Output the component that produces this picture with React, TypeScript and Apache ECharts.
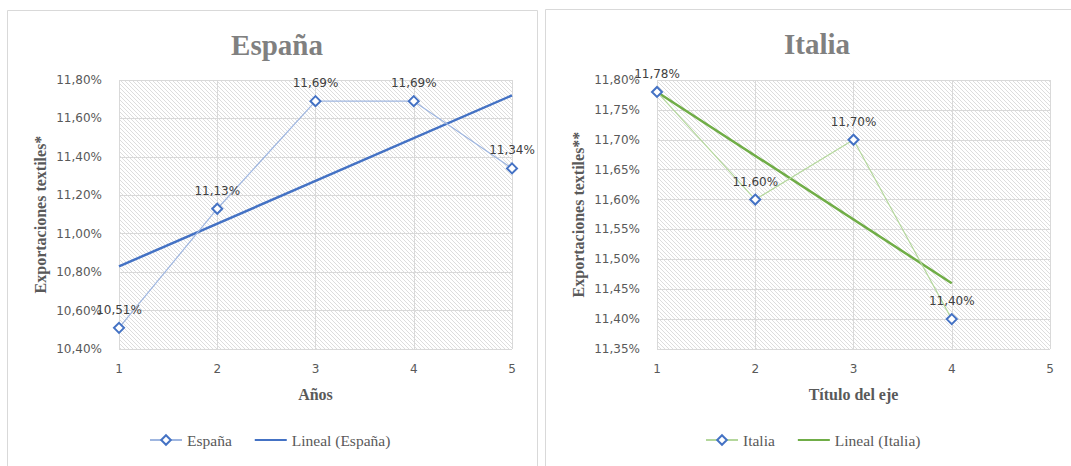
import { useEffect, useRef } from "react";
import * as echarts from "echarts";

// Spain: textile export share per year
const years = [1, 2, 3, 4, 5];
const espana = [10.51, 11.13, 11.69, 11.69, 11.34];
// Linear trend line end points (x = 1 and x = 5)
const espanaTrendX = [1, 5];
const espanaTrend = [10.83, 11.72];

// Italy: textile export share per year
const italiaYears = [1, 2, 3, 4];
const italia = [11.78, 11.6, 11.7, 11.4];
// Linear trend line end points (x = 1 and x = 4)
const italiaTrendX = [1, 4];
const italiaTrend = [11.78, 11.46];

const pct = (v: number) => v.toFixed(2).replace(".", ",") + "%";

const SANS = "DejaVu Sans";
const SERIF = "Liberation Serif";

// Diagonal hatch tile used as the plot-area fill
function hatchCanvas() {
  const c = document.createElement("canvas");
  c.width = 4;
  c.height = 4;
  const ctx = c.getContext("2d")!;
  ctx.fillStyle = "#ffffff";
  ctx.fillRect(0, 0, 4, 4);
  ctx.strokeStyle = "#d4d4d4";
  ctx.lineWidth = 0.8;
  ctx.beginPath();
  ctx.moveTo(-1, -1);
  ctx.lineTo(5, 5);
  ctx.moveTo(-1, 3);
  ctx.lineTo(1, 5);
  ctx.moveTo(3, -1);
  ctx.lineTo(5, 1);
  ctx.stroke();
  return c;
}

export default function App() {
  const ref = useRef<HTMLDivElement>(null);

  useEffect(() => {
    document.body.style.margin = "0";
    const chart = echarts.init(ref.current!, null, { renderer: "svg" });
    const hatch = { image: hatchCanvas(), repeat: "repeat" };

    const xAxisBase = (gridIndex: number, name: string) => ({
      type: "value",
      gridIndex,
      min: 1,
      max: 5,
      interval: 1,
      name,
      nameLocation: "middle",
      nameGap: 37,
      nameTextStyle: { fontFamily: SERIF, fontSize: 16, fontWeight: "bold", color: "#595959" },
      axisLine: { show: false },
      axisTick: { show: false },
      axisLabel: { margin: 14, fontFamily: SANS, fontSize: 12, color: "#595959" },
      splitLine: { show: true, lineStyle: { color: "#d9d9d9", width: 1 } },
    });

    const yAxisBase = (gridIndex: number, name: string, min: number, max: number, interval: number) => ({
      type: "value",
      gridIndex,
      min,
      max,
      interval,
      name,
      nameLocation: "middle",
      nameGap: 71,
      nameRotate: 90,
      nameTextStyle: { fontFamily: SERIF, fontSize: 16, fontWeight: "bold", color: "#595959" },
      axisLine: { show: false },
      axisTick: { show: false },
      axisLabel: { margin: 17, fontFamily: SANS, fontSize: 12, color: "#595959", formatter: pct },
      splitLine: { show: true, lineStyle: { color: "#d9d9d9", width: 1 } },
    });

    const marker = {
      symbol: "diamond",
      symbolSize: 10,
      itemStyle: { color: "#ffffff", borderColor: "#4472C4", borderWidth: 2 },
    };

    const dataLabel = {
      show: true,
      position: "top",
      distance: 6,
      formatter: (p: any) => pct(p.value[1]),
      fontFamily: SANS,
      fontSize: 12,
      color: "#404040",
    };

    const legendText = { fontFamily: SERIF, fontSize: 15.5, color: "#595959" };
    const hideSymbol = { itemStyle: { opacity: 0 } };

    chart.setOption({
      animation: false,
      graphic: [
        {
          type: "rect",
          shape: { x: 7.5, y: 10.5, width: 530, height: 480 },
          style: { fill: "#ffffff", stroke: "#d9d9d9", lineWidth: 1 },
          z: -10,
        },
        {
          type: "rect",
          shape: { x: 545.5, y: 9.5, width: 560, height: 480 },
          style: { fill: "#ffffff", stroke: "#d9d9d9", lineWidth: 1 },
          z: -10,
        },
      ],
      title: [
        {
          text: "España",
          left: 272,
          top: 25,
          textAlign: "center",
          textStyle: { fontFamily: SERIF, fontSize: 29, fontWeight: "bold", color: "#808080" },
        },
        {
          text: "Italia",
          left: 812,
          top: 24,
          textAlign: "center",
          textStyle: { fontFamily: SERIF, fontSize: 29, fontWeight: "bold", color: "#808080" },
        },
      ],
      legend: [
        {
          data: ["España", { name: "Lineal (España)", ...hideSymbol }],
          left: 144,
          top: 427,
          itemWidth: 32,
          itemHeight: 12,
          itemGap: 22,
          textStyle: legendText,
          selectedMode: false,
        },
        {
          data: ["Italia", { name: "Lineal (Italia)", ...hideSymbol }],
          left: 700,
          top: 427,
          itemWidth: 32,
          itemHeight: 12,
          itemGap: 22,
          textStyle: legendText,
          selectedMode: false,
        },
      ],
      grid: [
        { left: 119, top: 80, width: 393, height: 269, show: true, backgroundColor: hatch, borderWidth: 0 },
        { left: 657, top: 80, width: 393, height: 269, show: true, backgroundColor: hatch, borderWidth: 0 },
      ],
      xAxis: [xAxisBase(0, "Años"), xAxisBase(1, "Título del eje")],
      yAxis: [
        yAxisBase(0, "Exportaciones textiles*", 10.4, 11.8, 0.2),
        yAxisBase(1, "Exportaciones textiles**", 11.35, 11.8, 0.05),
      ],
      series: [
        {
          name: "España",
          type: "line",
          xAxisIndex: 0,
          yAxisIndex: 0,
          data: years.map((x, i) => [x, espana[i]]),
          ...marker,
          lineStyle: { color: "#9fb6e0", width: 1.2 },
          label: dataLabel,
          z: 4,
        },
        {
          name: "Lineal (España)",
          type: "line",
          xAxisIndex: 0,
          yAxisIndex: 0,
          data: espanaTrendX.map((x, i) => [x, espanaTrend[i]]),
          symbol: "none",
          itemStyle: { color: "#4472C4" },
          lineStyle: { color: "#4472C4", width: 2.5 },
          z: 3,
        },
        {
          name: "Italia",
          type: "line",
          xAxisIndex: 1,
          yAxisIndex: 1,
          data: italiaYears.map((x, i) => [x, italia[i]]),
          ...marker,
          lineStyle: { color: "#b4d79c", width: 1.2 },
          label: dataLabel,
          z: 4,
        },
        {
          name: "Lineal (Italia)",
          type: "line",
          xAxisIndex: 1,
          yAxisIndex: 1,
          data: italiaTrendX.map((x, i) => [x, italiaTrend[i]]),
          symbol: "none",
          itemStyle: { color: "#70AD47" },
          lineStyle: { color: "#70AD47", width: 2.5 },
          z: 3,
        },
      ],
    });

    return () => chart.dispose();
  }, []);

  return <div ref={ref} style={{ width: 1071, height: 466 }} />;
}
